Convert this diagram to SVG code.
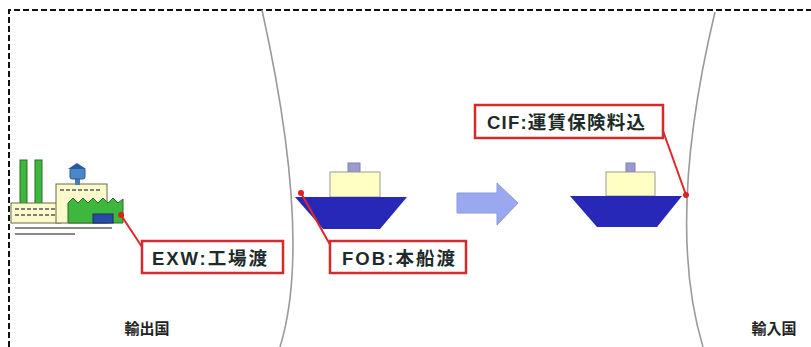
<svg xmlns="http://www.w3.org/2000/svg" width="811" height="347" viewBox="0 0 811 347">
  <style>
    .frame { fill: none; stroke: #111; stroke-width: 2; stroke-dasharray: 6 3; }
    .border { fill: none; stroke: #9a9a9a; stroke-width: 1.6; }
    .hull { fill: #2828b8; }
    .cabin { fill: #ffffc4; stroke: #9a9a9a; stroke-width: 1; }
    .funnel { fill: #9a9ad0; stroke: #8080b0; stroke-width: 1; }
    .callout { fill: none; stroke: #e02828; stroke-width: 2; }
    .dot { fill: #e02020; }
    .box { fill: #ffffff; stroke: #d42a2a; stroke-width: 2.5; }
    .label { font-family: "Liberation Sans", "Noto Sans CJK JP", sans-serif; font-weight: bold; font-size: 18.5px; fill: #1c2a2a; dominant-baseline: central; }
    .country { font-family: "Noto Sans CJK JP", sans-serif; font-weight: bold; font-size: 15px; fill: #222; text-anchor: middle; dominant-baseline: central; }
    .green { fill: #3db83d; stroke: #2a6a2a; stroke-width: 1; }
    .cream { fill: #fafacc; stroke: #6a6a4a; stroke-width: 1; }
  </style>

  <!-- outer dashed frame -->
  <path class="frame" d="M9,347 V10 H811"/>

  <!-- country borders -->
  <path class="border" d="M262,10 Q313,240 280,347"/>
  <path class="border" d="M715,12 Q665,221 703,347"/>

  <!-- factory -->
  <g id="factory">
    <rect class="green" x="20" y="160" width="7" height="44"/>
    <rect class="green" x="35" y="160" width="7" height="44"/>
    <rect class="cream" x="11" y="203" width="50" height="20"/>
    <path d="M15,209 h40 M15,215 h40" stroke="#555" stroke-width="1.5" stroke-dasharray="4 2"/>
    <rect class="cream" x="56" y="184" width="51" height="39"/>
    <path d="M60,190 h42" stroke="#555" stroke-width="1.5" stroke-dasharray="4 2"/>
    <!-- water tank -->
    <rect x="75" y="178" width="5" height="7" fill="#4a7ab0"/>
    <rect x="70" y="168" width="15" height="11" rx="2" fill="#4a86c8" stroke="#2a5a9a" stroke-width="1"/>
    <path d="M68,169 L77,163 L86,169 Z" fill="#2a5a9a"/>
    <path class="green" d="M68,223 V203 l5,-5 5,5 5,-5 5,5 5,-5 5,5 5,-5 5,5 5,-5 5,5 5,-4 V223 Z"/>
    <rect x="93" y="214" width="20" height="9" fill="#2a4aa8" stroke="#1a2a6a" stroke-width="1"/>
    <path d="M15,228 H112 M15,234 H75" stroke="#888" stroke-width="2"/>
  </g>

  <!-- ship at port of loading -->
  <g id="ship-fob">
    <rect class="funnel" x="348" y="163" width="12" height="9"/>
    <rect class="cabin" x="330" y="172" width="50" height="25"/>
    <path class="hull" d="M295,197 H407 L380,229 H323 Z"/>
  </g>

  <!-- transport arrow -->
  <g id="arrow">
    <path d="M457,193 H497 V183 L518,203 L497,225 V213 H457 Z" fill="#9aa8f0" stroke="#8a98e0" stroke-width="1"/>
  </g>

  <!-- ship at port of destination -->
  <g id="ship-cif">
    <rect class="funnel" x="626" y="163" width="9" height="9"/>
    <rect class="cabin" x="606" y="172" width="49" height="24"/>
    <path class="hull" d="M570,196 H682 L657,227 H597 Z"/>
  </g>

  <!-- callout connectors -->
  <g id="connectors">
    <path class="callout" d="M121,215 L144,250"/>
    <path class="callout" d="M301,193 L333,250"/>
    <path class="callout" d="M662,128 L686,195"/>
    <circle class="dot" cx="121" cy="215" r="3"/>
    <circle class="dot" cx="301" cy="193" r="3"/>
    <circle class="dot" cx="686" cy="195" r="3"/>
  </g>

  <g id="exw">
    <rect class="box" x="142" y="241" width="141" height="32"/>
    <text class="label" x="152" y="258" textLength="115" lengthAdjust="spacing">EXW:工場渡</text>
  </g>

  <g id="fob">
    <rect class="box" x="330" y="241" width="136" height="32"/>
    <text class="label" x="342" y="258" textLength="113" lengthAdjust="spacing">FOB:本船渡</text>
  </g>

  <g id="cif">
    <rect class="box" x="475" y="105" width="188" height="33"/>
    <text class="label" x="487" y="122" textLength="158" lengthAdjust="spacing">CIF:運賃保険料込</text>
  </g>

  <!-- country names -->
  <text class="country" x="147" y="327">輸出国</text>
  <text class="country" x="774" y="327">輸入国</text>
</svg>
